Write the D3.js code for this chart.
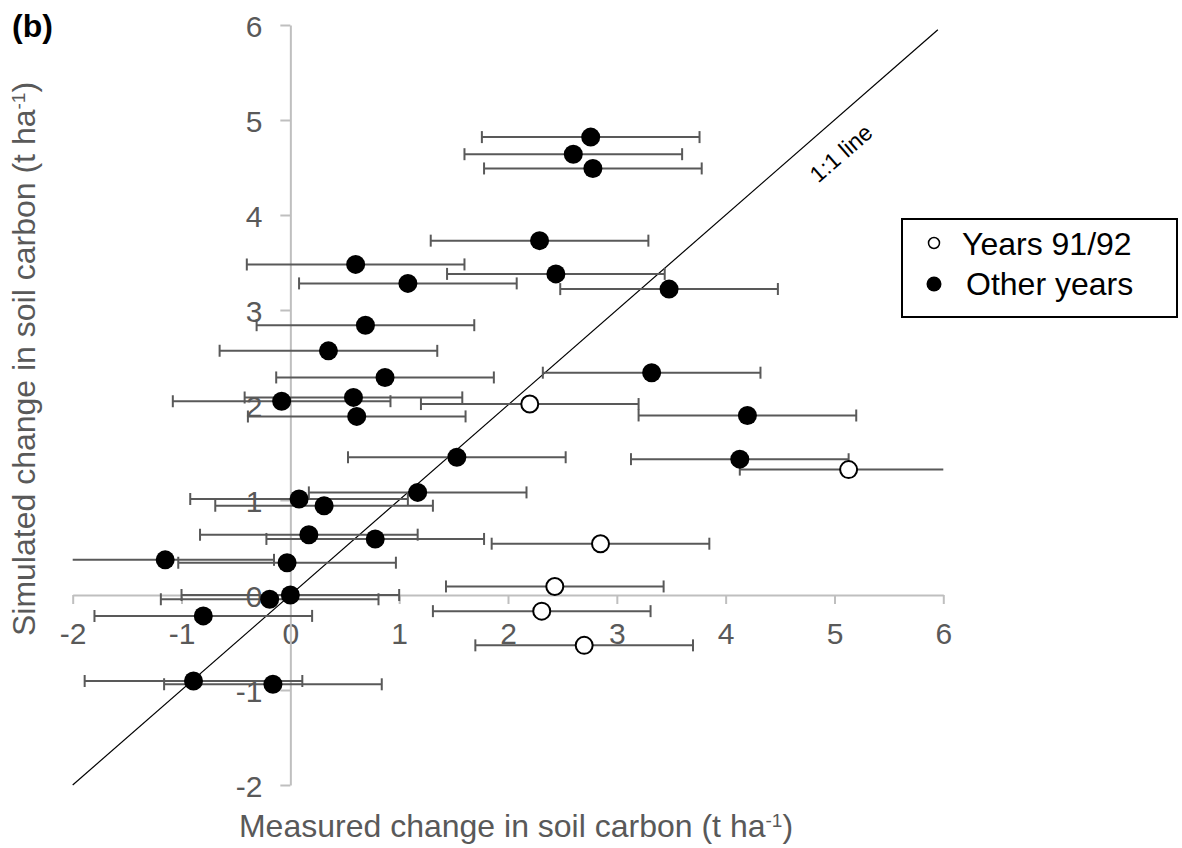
<!DOCTYPE html>
<html>
<head>
<meta charset="utf-8">
<title>Soil carbon</title>
<style>
  body{margin:0;background:#fff;}
  text{font-family:"Liberation Sans",Arial,sans-serif;}
  .axis .tick text{fill:#595959;font-size:30px;}
  .axis path,.axis line{stroke:#bfbfbf;stroke-width:2;}
  .title{fill:#595959;font-size:32px;}
  .legend text{font-size:32px;fill:#000;}
</style>
<script src="https://d3js.org/d3.v7.min.js"></script>
</head>
<body>
<script>
var width=1182,height=848;

// tick values
var xTicks=[-2,-1,0,1,2,3,4,5,6];
var yTicks=[-2,-1,0,1,2,3,4,5,6];

// "Other years" (filled markers)
var otherX=[2.76,2.60,2.78,2.29,0.60,2.44,1.08,3.48,0.69,0.35,0.87,3.32,-0.08,0.58,0.61,4.20,1.53,4.13,1.17,0.08,0.31,0.17,0.78,-1.15,-0.03,0.00,-0.19,-0.80,-0.89,-0.16];
var otherY=[4.82,4.64,4.49,3.73,3.48,3.38,3.28,3.22,2.84,2.57,2.29,2.34,2.04,2.08,1.88,1.89,1.45,1.43,1.08,1.01,0.94,0.635,0.59,0.37,0.34,0.00,-0.045,-0.22,-0.905,-0.94];

// "Years 91/92" (open markers)
var y9192X=[2.20,5.13,2.85,2.43,2.31,2.70];
var y9192Y=[2.01,1.32,0.54,0.09,-0.17,-0.53];

// horizontal error (t/ha), same for every point
var xError=1;

// 1:1 line ends and its label spot
var lineEnds=[-2,5.95];
var lineLabel={x:5.06,y:4.65,text:"1:1 line"};

var svg=d3.select("body").append("svg")
    .attr("width",width).attr("height",height)
    .style("background","#fff");

var x=d3.scaleLinear().domain([-2,6]).range([72.7,943.3]);
var y=d3.scaleLinear().domain([-2,6]).range([785,25]);

svg.append("defs").append("clipPath").attr("id","plotclip")
   .append("rect").attr("x",x(-2)).attr("y",0)
   .attr("width",x(6)-x(-2)).attr("height",height);

// axes crossing at 0
var xAxis=svg.append("g").attr("class","axis")
    .attr("transform","translate(0,"+y(0)+")")
    .call(d3.axisBottom(x).tickValues(xTicks).tickSize(9).tickSizeOuter(0).tickPadding(19).tickFormat(function(d){return String(d);}));
var yAxis=svg.append("g").attr("class","axis")
    .attr("transform","translate("+x(0)+",0)")
    .call(d3.axisLeft(y).tickValues(yTicks).tickSize(10).tickSizeOuter(0).tickPadding(18).tickFormat(function(d){return String(d);}));
yAxis.selectAll(".tick text").attr("dy","0.38em");

// 1:1 line
svg.append("line")
   .attr("x1",x(lineEnds[0])).attr("y1",y(lineEnds[0]))
   .attr("x2",x(lineEnds[1])).attr("y2",y(lineEnds[1]))
   .attr("stroke","#000").attr("stroke-width",1.2);
var ang=Math.atan2(y(0)-y(1),x(1)-x(0))*180/Math.PI;
svg.append("text")
   .attr("transform","translate("+x(lineLabel.x)+","+y(lineLabel.y)+") rotate("+(-ang)+")")
   .attr("text-anchor","middle").attr("dominant-baseline","central")
   .style("font-size","23px").style("fill","#000")
   .text(lineLabel.text);

function series(xs,ys){
    var pts=xs.map(function(v,i){return {x:v,y:ys[i]};});
    var bars=svg.append("g").attr("clip-path","url(#plotclip)")
        .attr("stroke","#595959").attr("stroke-width",2);
    bars.selectAll(".bar").data(pts).enter().append("line")
        .attr("x1",function(d){return x(d.x-xError);})
        .attr("x2",function(d){return x(d.x+xError);})
        .attr("y1",function(d){return y(d.y);})
        .attr("y2",function(d){return y(d.y);});
    [-1,1].forEach(function(s){
        bars.selectAll(".cap"+s).data(pts).enter().append("line")
            .attr("x1",function(d){return x(d.x+s*xError);})
            .attr("x2",function(d){return x(d.x+s*xError);})
            .attr("y1",function(d){return y(d.y)-6;})
            .attr("y2",function(d){return y(d.y)+6;});
    });
    return pts;
}
var otherPts=series(otherX,otherY);
var oldPts=series(y9192X,y9192Y);

svg.append("g").selectAll("circle").data(otherPts).enter().append("circle")
   .attr("cx",function(d){return x(d.x);})
   .attr("cy",function(d){return y(d.y);})
   .attr("r",9.5).attr("fill","#000");
svg.append("g").selectAll("circle").data(oldPts).enter().append("circle")
   .attr("cx",function(d){return x(d.x);})
   .attr("cy",function(d){return y(d.y);})
   .attr("r",8.5).attr("fill","#fff").attr("stroke","#000").attr("stroke-width",2);

// axis titles
var yt=svg.append("text").attr("class","title")
   .attr("transform","translate(35,359) rotate(-90)")
   .attr("text-anchor","middle");
yt.append("tspan").text("Simulated change in soil carbon (t ha");
yt.append("tspan").attr("baseline-shift","super").style("font-size","19px").text("-1");
yt.append("tspan").text(")");

var xt=svg.append("text").attr("class","title")
   .attr("x",516).attr("y",837).attr("text-anchor","middle");
xt.append("tspan").text("Measured change in soil carbon (t ha");
xt.append("tspan").attr("baseline-shift","super").style("font-size","19px").text("-1");
xt.append("tspan").text(")");

svg.append("text").attr("x",12).attr("y",37)
   .style("font-size","32px").style("font-weight","bold").style("fill","#000")
   .text("(b)");

// legend
var lg=svg.append("g").attr("class","legend").attr("transform","translate(902,219)");
lg.append("rect").attr("width",275).attr("height",98)
  .attr("fill","#fff").attr("stroke","#000").attr("stroke-width",2);
lg.append("circle").attr("cx",32).attr("cy",24).attr("r",5.5)
  .attr("fill","#fff").attr("stroke","#000").attr("stroke-width",1.5);
lg.append("text").attr("x",60).attr("y",36).text("Years 91/92");
lg.append("circle").attr("cx",32).attr("cy",65).attr("r",7.5).attr("fill","#000");
lg.append("text").attr("x",64).attr("y",76).text("Other years");
</script>
</body>
</html>
